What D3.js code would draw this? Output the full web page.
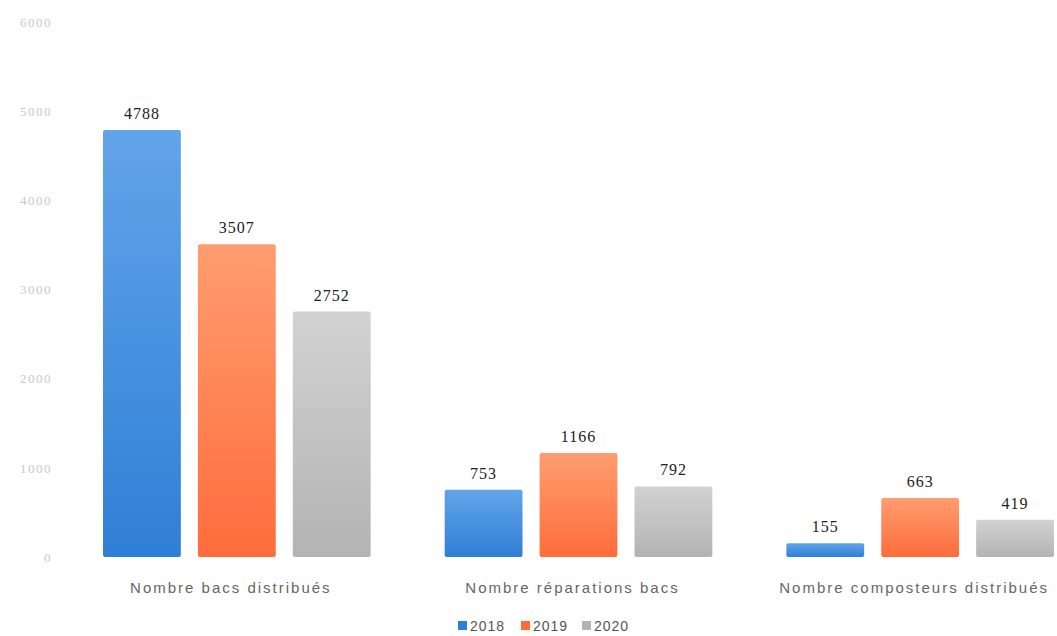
<!DOCTYPE html>
<html><head><meta charset="utf-8">
<script src="https://cdn.jsdelivr.net/npm/d3@7"></script>
<style>body{margin:0;background:#fff}svg{display:block}</style>
</head><body><svg id="c" width="1057" height="636"></svg>
<script>
const categories = ["Nombre bacs distribués", "Nombre réparations bacs", "Nombre composteurs distribués"];
const years = ["2018", "2019", "2020"];
const values2018 = [4788, 753, 155];
const values2019 = [3507, 1166, 663];
const values2020 = [2752, 792, 419];
const yTicks = [0, 1000, 2000, 3000, 4000, 5000, 6000];
const colors = [["#62a4ea", "#2f7fd6"], ["#ff9d70", "#ff6c3b"], ["#d2d2d2", "#b3b3b3"]];

const series = [values2018, values2019, values2020];
const svg = d3.select("#c");
const y = d3.scaleLinear().domain([0, 6000]).range([557, 22]);
const x0 = d3.scaleBand().domain(categories).range([66, 1091]).padding(0);
const x1 = d3.scaleBand().domain(years).range([0, x0.bandwidth()]).paddingInner(0.18).paddingOuter(0.39);

const defs = svg.append("defs");
years.forEach((yr, i) => {
  const g = defs.append("linearGradient").attr("id", "g" + i).attr("x1", 0).attr("y1", 0).attr("x2", 0).attr("y2", 1);
  g.append("stop").attr("offset", "0%").attr("stop-color", colors[i][0]);
  g.append("stop").attr("offset", "100%").attr("stop-color", colors[i][1]);
});

// y axis
const yAxis = d3.axisLeft(y).tickValues(yTicks).tickFormat(d3.format("d")).tickSize(0).tickPadding(0);
const ya = svg.append("g").attr("transform", "translate(52,0)").call(yAxis);
ya.select(".domain").remove();
ya.selectAll("text").attr("fill", "#c8c8c8").attr("font-family", "Liberation Serif").attr("font-size", 13)
  .attr("letter-spacing", 1.5);

// bars
const groups = svg.append("g").selectAll("g").data(categories).join("g")
  .attr("transform", d => `translate(${x0(d)},0)`);
groups.selectAll("rect").data((d, ci) => years.map((yr, si) => ({yr, si, v: series[si][ci]})))
  .join("rect")
  .attr("x", d => x1(d.yr)).attr("width", x1.bandwidth())
  .attr("y", d => y(d.v)).attr("height", d => y(0) - y(d.v))
  .attr("rx", 2)
  .attr("fill", d => `url(#g${d.si})`);
groups.selectAll("text").data((d, ci) => years.map((yr, si) => ({yr, si, v: series[si][ci]})))
  .join("text")
  .attr("x", d => x1(d.yr) + x1.bandwidth() / 2).attr("y", d => y(d.v) - 11)
  .attr("text-anchor", "middle").attr("font-family", "Liberation Serif").attr("font-size", 16)
  .attr("letter-spacing", 1)
  .attr("fill", "#222")
  .text(d => d.v);

// category axis
const xAxis = d3.axisBottom(x0).tickSize(0).tickPadding(0);
const xa = svg.append("g").attr("transform", "translate(-6,582)").call(xAxis);
xa.select(".domain").remove();
xa.selectAll("text").attr("fill", "#666").attr("font-family", "Liberation Sans").attr("font-size", 15)
  .attr("letter-spacing", 2).attr("dy", "0.71em");

// legend
const legend = svg.append("g").attr("transform", "translate(458,626)");
const lx = [0, 63, 124];
years.forEach((yr, i) => {
  const g = legend.append("g").attr("transform", `translate(${lx[i]},0)`);
  g.append("rect").attr("x", 0).attr("y", -5).attr("width", 9).attr("height", 9).attr("fill", colors[i][1]);
  g.append("text").attr("x", 12).attr("y", 0).attr("dy", "0.35em").attr("font-family", "Liberation Sans")
    .attr("font-size", 14).attr("letter-spacing", 1).attr("fill", "#555").text(yr);
});
</script></body></html>
